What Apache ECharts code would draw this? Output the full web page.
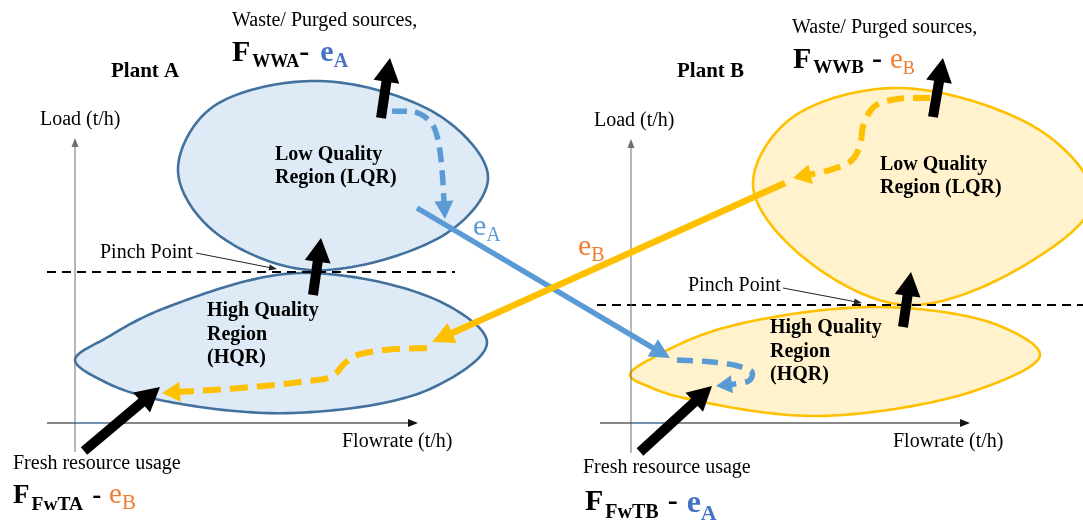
<!DOCTYPE html>
<html><head><meta charset="utf-8">
<script src="https://cdn.jsdelivr.net/npm/echarts@6/dist/echarts.min.js"></script>
<style>html,body{margin:0;padding:0;background:#fff}#c{width:1083px;height:523px}</style>
</head><body><div id="c"></div>
<script>
// ===== Data: diagram coordinates (x to the right, y downward) =====
// Region outline anchor points (a closed spline is passed through them)
const lqrA = [[178,170],[210,109],[320,81],[443,118],[488,177],[450,231],[310,270],[210,228]];
const hqrA = [[75,360],[108,337],[165,308],[300,273],[443,303],[487,343],[430,389],[293,413],[160,400],[105,382]];
const lqrB = [[753,185],[789,120],[900,88],[1047,135],[1093,200],[1030,262],[905,305],[797,252]];
const hqrB = [[630,375],[660,354],[727,327],[880,307],[1000,326],[1040,355],[977,390],[820,416],[693,400],[652,388]];

// Pinch lines, axes, pointers
const pinchA = [[47,272],[455,272]];
const pinchB = [[597,305],[1083,305]];
const loadAxisA = [[75,452],[75,138]];
const flowAxisA = [[47,423],[418,423]];
const loadAxisB = [[631,453],[631,139]];
const flowAxisB = [[600,423],[970,423]];
const pinchPointerA = [[196,253],[277,269]];
const pinchPointerB = [[783,288],[862,303]];
const baseTickA = [[75,423],[108,423]];
const baseTickB = [[631,423],[663,423]];

// Black flow arrows
const wasteArrowA = [[381,118],[390,58]];
const wasteArrowB = [[933,117],[943,58]];
const pinchArrowA = [[313,295],[321,238]];
const pinchArrowB = [[903,327],[911,272]];
const freshArrowA = [[84,451],[160,387]];
const freshArrowB = [[640,452],[712,386]];

// Coloured exchange routes
const exportA = [[417,208],[670,358]];
const exportB = [[785,183],[432,342]];
const routeA_LQR = [[392,111],[418,113],[432,124],[438,140],[442,170],[445,219]];
const routeA_HQR = [[427,348],[385,350],[355,356],[343,365],[333,376],[300,382],[240,388],[162,393]];
const routeB_LQR = [[930,98],[897,99],[875,106],[864,123],[860,145],[852,160],[830,170],[793,178]];
const routeB_HQR = [[677,360],[712,362],[738,366],[752,372],[750,380],[735,384],[716,386]];

// Texts (anchor = left x, baseline y)
const plainLabels = ['Waste/ Purged sources,','Waste/ Purged sources,','Load (t/h)','Load (t/h)','Pinch Point','Pinch Point','Flowrate (t/h)','Flowrate (t/h)','Fresh resource usage','Fresh resource usage'];
const plainAt = [[232,28],[792,35],[40,127],[594,128],[100,260],[688,293],[342,449],[893,449],[13,471],[583,475]];
const plantLabels = ['Plant A','Plant B'];
const plantAt = [[111,79],[677,79]];
const regionLabels = ['Low Quality','Region (LQR)','Low Quality','Region (LQR)','High Quality','Region','(HQR)','High Quality','Region','(HQR)'];
const regionAt = [[275,162],[275,185],[880,172],[880,195],[207,318],[207,342],[207,365],[770,335],[770,359],[770,382]];
const formulaTokens = {
  wasteA: ['F','WWA','-','e','A'],
  wasteB: ['F','WWB','-','e','B'],
  freshA: ['F','FwTA','-','e','B'],
  freshB: ['F','FwTB','-','e','A'],
  flowA: ['e','A'],
  flowB: ['e','B']
};
const formulaAt = {wasteA:[232,63], wasteB:[793,70], freshA:[13,505], freshB:[585,512], flowA:[473,237], flowB:[578,257]};

// ===== Styles =====
const FAM = '"Liberation Serif","Times New Roman",Times,serif';
const fnt = (bold, size) => (bold ? 'bold ' : '') + size + 'px ' + FAM;
const BLUE_T = '#4472C4', ORANGE_T = '#ED7D31', BLUE_L = '#5B9BD5', YEL = '#FFC000';
const formulaStyle = {
  wasteA: [{b:1,s:30},{b:1,s:18,dy:5,gap:2},{b:1,s:30},{b:1,s:30,c:BLUE_T,gap:11},{b:1,s:20,c:BLUE_T,dy:6}],
  wasteB: [{b:1,s:30},{b:1,s:19,dy:5,gap:2},{b:1,s:30,gap:8},{b:0,s:29,c:ORANGE_T,gap:8},{b:0,s:18,c:ORANGE_T,dy:5}],
  freshA: [{b:1,s:27},{b:1,s:19.5,dy:7,gap:2},{b:1,s:27,gap:9},{b:0,s:29,c:ORANGE_T,gap:8},{b:0,s:21,c:ORANGE_T,dy:6}],
  freshB: [{b:1,s:30},{b:1,s:20,dy:8,gap:2},{b:1,s:30,gap:9},{b:1,s:32,c:BLUE_T,gap:9,dy:3},{b:1,s:22,c:BLUE_T,dy:10}],
  flowA: [{b:0,s:30,c:BLUE_L},{b:0,s:20,c:BLUE_L,dy:6}],
  flowB: [{b:0,s:30,c:ORANGE_T},{b:0,s:20,c:ORANGE_T,dy:6}]
};

const regions = [
  {pts:lqrA, fill:'#DEEBF7', stroke:'#41719C'},
  {pts:hqrA, fill:'#DEEBF7', stroke:'#41719C'},
  {pts:lqrB, fill:'#FFF2CC', stroke:YEL},
  {pts:hqrB, fill:'#FFF2CC', stroke:YEL}
];
const guides = [
  {pts:pinchA, color:'#000', width:2, dash:[9,6]},
  {pts:pinchB, color:'#000', width:2, dash:[9,6]},
  {pts:loadAxisA, color:'#6f6f6f', width:1, head:[9,7]},
  {pts:flowAxisA, color:'#111', width:1, head:[10,8]},
  {pts:loadAxisB, color:'#6f6f6f', width:1, head:[9,7]},
  {pts:flowAxisB, color:'#111', width:1, head:[10,8]},
  {pts:baseTickA, color:BLUE_L, width:1},
  {pts:baseTickB, color:BLUE_L, width:1},
  {pts:pinchPointerA, color:'#222', width:1, head:[8,6]},
  {pts:pinchPointerB, color:'#222', width:1, head:[8,6]}
];
const flows = [
  {pts:routeA_LQR, color:BLUE_L, width:5.5, dash:[15,8], curve:true, head:[18,19]},
  {pts:routeB_HQR, color:BLUE_L, width:5.5, dash:[16,9], curve:true, head:[16,18]},
  {pts:routeB_LQR, color:YEL, width:6, dash:[17,9], curve:true, head:[18,20]},
  {pts:routeA_HQR, color:YEL, width:6, dash:[18,9], curve:true, head:[18,20]},
  {pts:exportA, color:BLUE_L, width:5.5, head:[20,20]},
  {pts:exportB, color:YEL, width:6.5, head:[22,22]}
];
const blackArrows = [wasteArrowA, wasteArrowB, pinchArrowA, pinchArrowB, freshArrowA, freshArrowB]
  .map(p => ({pts:p, color:'#000', width:10, head:[24,26]}));

// ===== Geometry helpers (centripetal Catmull-Rom through read anchor points) =====
function crSeg(p0, p1, p2, p3, steps, out){
  const d = (a,b) => Math.pow(Math.hypot(b[0]-a[0], b[1]-a[1]) || 1e-6, 0.5);
  const t0 = 0, t1 = t0 + d(p0,p1), t2 = t1 + d(p1,p2), t3 = t2 + d(p2,p3);
  const lerp = (a, b, ta, tb, t) => [((tb-t)*a[0] + (t-ta)*b[0])/(tb-ta), ((tb-t)*a[1] + (t-ta)*b[1])/(tb-ta)];
  for (let k = 0; k < steps; k++){
    const t = t1 + (t2-t1)*k/steps;
    const A1 = lerp(p0,p1,t0,t1,t), A2 = lerp(p1,p2,t1,t2,t), A3 = lerp(p2,p3,t2,t3,t);
    const B1 = lerp(A1,A2,t0,t2,t), B2 = lerp(A2,A3,t1,t3,t);
    out.push(lerp(B1,B2,t1,t2,t));
  }
}
function closedSpline(px, steps){
  const n = px.length, out = [];
  for (let i = 0; i < n; i++) crSeg(px[(i-1+n)%n], px[i], px[(i+1)%n], px[(i+2)%n], steps, out);
  return out;
}
function openSpline(px, steps){
  const n = px.length, out = [];
  const first = [2*px[0][0]-px[1][0], 2*px[0][1]-px[1][1]];
  const last = [2*px[n-1][0]-px[n-2][0], 2*px[n-1][1]-px[n-2][1]];
  const ext = [first].concat(px, [last]);
  for (let i = 1; i < ext.length - 2; i++) crSeg(ext[i-1], ext[i], ext[i+1], ext[i+2], steps, out);
  out.push(px[n-1]);
  return out;
}

const mctx = document.createElement('canvas').getContext('2d');
function tw(str, f){ mctx.font = f; return mctx.measureText(str).width; }

function pathEls(api, st){
  const px = st.pts.map(p => api.coord(p));
  const els = [];
  let linePts = px;
  let headEl = null;
  if (st.head){
    const n = px.length, tip = px[n-1], prev = px[n-2];
    let dx = tip[0]-prev[0], dy = tip[1]-prev[1];
    const d = Math.hypot(dx,dy) || 1; dx /= d; dy /= d;
    const L = st.head[0], W = st.head[1];
    const bx = tip[0]-dx*L, by = tip[1]-dy*L;
    linePts = px.slice(0, n-1).concat([[tip[0]-dx*L*0.7, tip[1]-dy*L*0.7]]);
    headEl = {type:'polygon', shape:{points:[tip,[bx-dy*W/2, by+dx*W/2],[bx+dy*W/2, by-dx*W/2]]}, style:{fill:st.color, stroke:null}};
  }
  if (st.curve) linePts = openSpline(linePts, 12);
  els.push({type:'polyline', shape:{points:linePts}, style:{fill:'none', stroke:st.color, lineWidth:st.width, lineDash:st.dash||null, lineCap:'butt', lineJoin:'round'}});
  if (headEl) els.push(headEl);
  return els;
}
function textEl(x, y, str, f, size, color){
  const my = y - 0.34*size;
  return {type:'text', x:x, y:my, style:{text:str, font:f, fill:color||'#000', align:'left', verticalAlign:'middle', textAlign:'left', textVerticalAlign:'middle'}};
}
function listSeries(name, list, render){
  return {type:'custom', name, coordinateSystem:'cartesian2d', silent:true, animation:false,
    data: list.map((_, i) => [0, 0, i]),
    renderItem: (params, api) => render(list[api.value(2)], api)};
}

// ===== Chart =====
const chart = echarts.init(document.getElementById('c'), null, {renderer:'canvas'});
const textItems = [];
plainLabels.forEach((t,i) => textItems.push({kind:'plain', t, at:plainAt[i]}));
plantLabels.forEach((t,i) => textItems.push({kind:'plant', t, at:plantAt[i]}));
regionLabels.forEach((t,i) => textItems.push({kind:'region', t, at:regionAt[i]}));
Object.keys(formulaTokens).forEach(k => textItems.push({kind:'formula', key:k, at:formulaAt[k]}));

chart.setOption({
  animation:false,
  backgroundColor:'#ffffff',
  grid:{left:0, right:0, top:0, bottom:0},
  xAxis:{type:'value', min:0, max:1083, show:false},
  yAxis:{type:'value', min:0, max:523, inverse:true, show:false},
  series:[
    listSeries('regions', regions, (r, api) => ({
      type:'polygon', shape:{points:closedSpline(r.pts.map(p => api.coord(p)), 24)},
      style:{fill:r.fill, stroke:r.stroke, lineWidth:2.6, lineJoin:'round'}
    })),
    listSeries('guides', guides, (g, api) => ({type:'group', children:pathEls(api, g)})),
    listSeries('flows', flows, (g, api) => ({type:'group', children:pathEls(api, g)})),
    listSeries('arrows', blackArrows, (g, api) => ({type:'group', children:pathEls(api, g)})),
    listSeries('texts', textItems, (it, api) => {
      const p = api.coord(it.at);
      if (it.kind === 'plain') return textEl(p[0], p[1], it.t, fnt(0,20), 20);
      if (it.kind === 'plant') return textEl(p[0], p[1], it.t, fnt(1,21), 21);
      if (it.kind === 'region') return textEl(p[0], p[1], it.t, fnt(1,20), 20);
      const toks = formulaTokens[it.key], sts = formulaStyle[it.key];
      let x = p[0];
      const children = toks.map((str, i) => {
        const s = sts[i];
        const f = fnt(s.b, s.s);
        x += (s.gap || 0);
        const el = textEl(x, p[1] + (s.dy || 0), str, f, s.s, s.c || '#000');
        x += tw(str, f);
        return el;
      });
      return {type:'group', children};
    })
  ]
});
</script></body></html>
